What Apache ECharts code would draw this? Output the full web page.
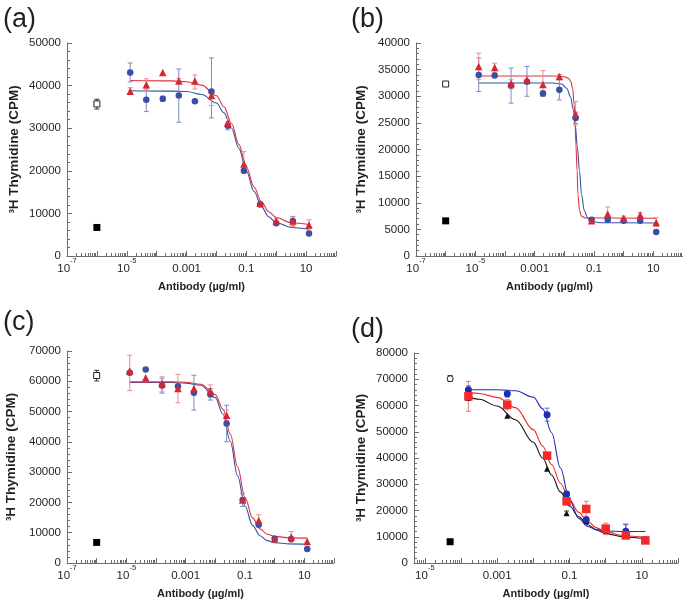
<!DOCTYPE html>
<html><head><meta charset="utf-8">
<script src="https://cdn.jsdelivr.net/npm/echarts@6/dist/echarts.min.js"></script>
<style>html,body{margin:0;padding:0;background:#fff}#c{width:683px;height:603px}</style>
</head><body><div id="c"></div>
<script>
// ---------------- DATA ----------------
// concentrations (µg/ml)
const abcConc = [1.3e-5, 4.5e-5, 1.6e-4, 5.5e-4, 1.9e-3, 6.8e-3, 0.024, 0.083, 0.29, 1.0, 3.6, 12.5];
const dConc = [1.6e-4, 1.9e-3, 0.024, 0.083, 0.29, 1.0, 3.6, 12.5];
const ctrlConcABC = 1e-6;
const ctrlConcD = 5e-5;

// panel (a)
const aBlue   = [43100, 36700, 36900, 37700, 36300, 38600, 30600, 20000, 12100, 7700, 8200, 5300];
const aBlueLo = [40900, 33900, 36300, 31400, null, 32400, 29600, null, null, null, 7200, null];
const aBlueHi = [45300, 39200, 37500, 43900, null, 46500, 31500, null, null, null, 9300, null];
const aRed    = [38700, 40200, 43100, 41100, 41100, 37700, 31200, 21600, 12400, 8300, 8200, 7300];
const aRedLo  = [38100, 38700, null, 40500, 39200, 35300, 30500, 19400, null, 8000, 6900, 6100];
const aRedHi  = [39500, 41600, null, 41700, 42500, 38900, 32300, 24500, null, 8900, 9200, 8500];
const aCtrlOpen = [35700], aCtrlOpenLo = [34500], aCtrlOpenHi = [36800];
const aCtrlFilled = [6700];
const aFitX    = [1.3e-5, 3.2e-4, 1e-3, 3.2e-3, 0.01, 0.018, 0.032, 0.056, 0.1, 0.18, 0.32, 0.56, 1.0, 3.2, 12.5];
const aFitRed  = [41200, 41100, 40900, 40100, 37600, 35000, 31100, 26200, 20900, 16200, 12700, 10400, 9000, 7800, 7400];
const aFitBlue = [38800, 38700, 38600, 37900, 35900, 33600, 30000, 25300, 20000, 15200, 11600, 9200, 7800, 6700, 6300];

// panel (b)
const bBlue   = [34000, 33900, 32000, 32700, 30500, 31200, 25900, 6800, 6800, 6600, 6600, 4500];
const bBlueLo = [30900, null, 28700, 30000, 30000, 29300, 24900, null, null, null, null, null];
const bBlueHi = [37200, null, 35300, 35600, 31000, 33100, 27000, null, null, null, null, null];
const bRed    = [35600, 35400, 32400, 33100, 32200, 33700, 26600, 6600, 7900, 7100, 7700, 6300];
const bRedLo  = [33100, 34500, 31400, 32500, 30000, 33300, 24600, null, 6600, 6600, 7200, 5500];
const bRedHi  = [38100, 36200, 33100, 33700, 34800, 34100, 29000, null, 9200, 7500, 8200, 7200];
const bCtrlOpen = [32300], bCtrlOpenLo = [31900], bCtrlOpenHi = [32700];
const bCtrlFilled = [6600];
const bFitRedX  = [1.3e-5, 4.3e-3, 9.3e-3, 0.0135, 0.0166, 0.0191, 0.0214, 0.0229, 0.0245, 0.0269, 0.0288, 0.0324, 0.0372, 0.050, 12.5];
const bFitRed   = [33800, 33800, 33700, 33400, 32800, 31500, 28500, 25500, 21000, 16000, 11500, 8600, 7500, 7150, 7100];
const bFitBlueX = [1.3e-5, 4.3e-3, 8.1e-3, 0.012, 0.0162, 0.020, 0.0234, 0.0275, 0.0324, 0.038, 0.0468, 0.0617, 0.083, 0.158, 12.5];
const bFitBlue  = [32500, 32500, 32300, 31500, 29900, 27500, 24500, 20500, 16000, 11500, 8600, 7100, 6500, 6250, 6200];

// panel (c)
const cBlue   = [62800, 63900, 58600, 58400, 56200, 55700, 46100, 20800, 12600, 8000, 7900, 4600];
const cBlueLo = [null, null, 56100, null, 50500, 53800, 40000, 18700, null, null, null, null];
const cBlueHi = [null, null, 61000, null, 62000, 57600, 52100, 23000, null, null, null, null];
const cRed    = [63400, 61200, 59300, 57600, 57600, 56800, 48800, 20800, 14000, 8000, 8600, 7100];
const cRedLo  = [56900, null, 56500, 52900, null, 54800, 47100, null, 12100, null, 6600, null];
const cRedHi  = [68600, null, 61500, 62300, null, 58800, 50500, null, 15900, null, 10400, null];
const cCtrlOpen = [61900], cCtrlOpenLo = [60100], cCtrlOpenHi = [63600];
const cCtrlFilled = [6800];
const cFitX    = [1.3e-5, 3.2e-4, 1e-3, 3.2e-3, 0.01, 0.018, 0.032, 0.056, 0.1, 0.18, 0.32, 0.56, 1.0, 3.2, 12.5];
const cFitRed  = [59800, 59800, 59700, 59000, 55600, 50800, 42600, 31800, 21700, 14900, 11300, 9500, 8800, 8300, 8200];
const cFitBlue = [59600, 59600, 59400, 58700, 54600, 49200, 40100, 28800, 18800, 12400, 9000, 7400, 6700, 6300, 6200];

// panel (d)
const dBlue    = [66000, 64500, 56500, 26300, 16500, 13000, 12100, 8900];
const dBlueLo  = [65000, 63200, 54000, 25300, null, null, 10200, null];
const dBlueHi  = [67500, 65800, 59000, 27300, null, null, 14600, null];
const dRed     = [63500, 60300, 40900, 23500, 20600, 13100, 10500, 8600];
const dRedLo   = [57800, 58400, null, 22800, 17800, 10800, 9800, 7800];
const dRedHi   = [69200, 62200, null, 24300, 23500, 15200, 11200, 9400];
const dBlack   = [62900, 56100, 35900, 19000, 16000, 13000, 12100, 9100];
const dBlackLo = [null, null, null, 18300, null, null, 9800, null];
const dBlackHi = [null, null, null, 19800, null, null, 14800, null];
const dCtrlOpen = [70200], dCtrlOpenLo = [69200], dCtrlOpenHi = [71400];
const dCtrlFilled = [8100];
const dFitX     = [1.6e-4, 3.2e-4, 1e-3, 3.2e-3, 0.01, 0.018, 0.032, 0.056, 0.1, 0.18, 0.32, 0.56, 1.0, 3.2, 12.5];
const dFitBlue  = [66000, 66000, 66000, 65600, 63200, 58800, 49600, 36200, 24100, 17000, 13900, 12700, 12200, 12000, 12000];
const dFitRed   = [65000, 64600, 63100, 59200, 50800, 44600, 37500, 30400, 24200, 19300, 15800, 13400, 11900, 10400, 9750];
const dFitBlack = [63200, 62400, 59800, 54600, 46000, 40000, 33500, 27100, 21700, 17600, 14600, 12600, 11200, 9900, 9300];

// axis tick labels
const xLabelDecadesABC = [-7, -5, -3, -1, 1];
const xLabelDecadesD = [-5, -3, -1, 1];
const panelLetters = ['(a)', '(b)', '(c)', '(d)'];
const xTitle = 'Antibody (µg/ml)';
const yTitle = '³H Thymidine (CPM)';

// ---------------- STYLE / LAYOUT ----------------
const FONT = '"Liberation Sans", Arial, Helvetica, sans-serif';
const TXT = '#231f20';
const AX = '#6d6d6d';
const BLUE = '#3b4ea3', BLUE_L = '#3352a8', BLUE_E = '#7d8cc4';
const RED = '#d8262f', RED_L = '#e0323a', RED_E = '#e88c8c';
const D_BLUE = '#1f2db5', D_RED = '#f42a2a', D_BLACK = '#111111';

const grids = [
  {left: 67, top: 43, width: 269, height: 213},
  {left: 416, top: 43, width: 267, height: 213},
  {left: 67, top: 351, width: 267, height: 212},
  {left: 414, top: 353, width: 264, height: 210}
];
const xRanges = [[-7, 2], [-7, 2], [-7, 2], [-5.3, 2]];
const yMax = [50000, 40000, 70000, 80000];
const yStep = [10000, 5000, 10000, 10000];

const lg = Math.log10;
function pts(xs, ys) { const o = []; xs.forEach((x, i) => { if (ys[i] != null) o.push([lg(x), ys[i]]); }); return o; }
function bars(xs, lo, hi) { const o = []; xs.forEach((x, i) => { if (lo[i] != null && hi[i] != null) o.push([lg(x), lo[i], hi[i]]); }); return o; }

function majors(r) { const o = []; for (let n = Math.ceil(r[0]); n <= r[1]; n++) o.push(n); return o; }
function minors(r) {
  const o = [];
  for (let n = Math.floor(r[0]); n < r[1]; n++) for (let k = 2; k <= 9; k++) {
    const v = n + lg(k); if (v >= r[0] && v <= r[1]) o.push(v);
  }
  return o;
}
function xFmt(v) {
  const r = Math.round(v);
  if (r <= -4) return '{b|10}{s|' + r + '}';
  const m = {'-3': '0.001', '-2': '0.01', '-1': '0.1', '0': '1', '1': '10'};
  return '{b|' + m[String(r)] + '}';
}

const xAxes = [], yAxes = [];
grids.forEach((g, i) => {
  const r = xRanges[i];
  xAxes.push({
    gridIndex: i, type: 'value', position: 'bottom', min: r[0], max: r[1],
    axisLine: {show: true, onZero: false, lineStyle: {color: AX, width: 1}},
    axisTick: {show: true, inside: true, length: 5, customValues: majors(r), lineStyle: {color: AX}},
    axisLabel: {
      customValues: i === 3 ? xLabelDecadesD : xLabelDecadesABC, formatter: xFmt, margin: 1,
      rich: {
        b: {fontSize: 11.5, fontFamily: FONT, color: TXT, lineHeight: 18, verticalAlign: 'bottom'},
        s: {fontSize: 7.5, fontFamily: FONT, color: TXT, lineHeight: 18, verticalAlign: 'top'}
      }
    },
    splitLine: {show: false}
  });
  xAxes.push({
    gridIndex: i, type: 'value', position: 'bottom', min: r[0], max: r[1],
    axisLine: {show: false, onZero: false}, axisLabel: {show: false}, splitLine: {show: false},
    axisTick: {show: true, inside: true, length: 3, customValues: minors(r), lineStyle: {color: AX}}
  });
  yAxes.push({
    gridIndex: i, type: 'value', position: 'left', min: 0, max: yMax[i], interval: yStep[i],
    axisLine: {show: true, onZero: false, lineStyle: {color: AX, width: 1}},
    axisTick: {show: true, inside: true, length: 5, lineStyle: {color: AX}},
    minorTick: {show: true, splitNumber: 5, length: 3, lineStyle: {color: AX}},
    axisLabel: {fontSize: 11.5, fontFamily: FONT, color: TXT, margin: 6, formatter: v => String(v)},
    splitLine: {show: false}, minorSplitLine: {show: false}
  });
});

const series = [];
function fit(gi, xs, ys, color) {
  series.push({type: 'line', xAxisIndex: gi * 2, yAxisIndex: gi, data: pts(xs, ys), showSymbol: false,
    smooth: 0.35, smoothMonotone: 'x', lineStyle: {color: color, width: 1.1}, z: 2, silent: true});
}
function err(gi, xs, lo, hi, color) {
  series.push({
    type: 'custom', xAxisIndex: gi * 2, yAxisIndex: gi, data: bars(xs, lo, hi), z: 3, silent: true,
    encode: {x: 0, y: [1, 2]},
    renderItem: (params, api) => {
      const x = api.value(0);
      const p1 = api.coord([x, api.value(1)]), p2 = api.coord([x, api.value(2)]);
      const w = 2.5, st = {stroke: color, lineWidth: 1};
      return {type: 'group', children: [
        {type: 'line', shape: {x1: p1[0], y1: p1[1], x2: p2[0], y2: p2[1]}, style: st},
        {type: 'line', shape: {x1: p1[0] - w, y1: p1[1], x2: p1[0] + w, y2: p1[1]}, style: st},
        {type: 'line', shape: {x1: p2[0] - w, y1: p2[1], x2: p2[0] + w, y2: p2[1]}, style: st}
      ]};
    }
  });
}
function dots(gi, xs, ys, symbol, size, fill, border) {
  series.push({type: 'scatter', xAxisIndex: gi * 2, yAxisIndex: gi, data: pts(xs, ys), symbol: symbol,
    symbolSize: size, z: 4, silent: true,
    itemStyle: {color: fill, borderColor: border || fill, borderWidth: border ? 1 : 0, opacity: 1}});
}

// panel (a)
fit(0, aFitX, aFitBlue, BLUE_L); fit(0, aFitX, aFitRed, RED_L);
err(0, abcConc, aBlueLo, aBlueHi, BLUE_E); err(0, abcConc, aRedLo, aRedHi, RED_E);
err(0, [ctrlConcABC], aCtrlOpenLo, aCtrlOpenHi, '#333');
dots(0, abcConc, aBlue, 'circle', 6.5, BLUE); dots(0, abcConc, aRed, 'triangle', 7.5, RED);
dots(0, [ctrlConcABC], aCtrlOpen, 'rect', 6, '#fff', '#222'); dots(0, [ctrlConcABC], aCtrlFilled, 'rect', 7, '#000');
// panel (b)
fit(1, bFitBlueX, bFitBlue, BLUE_L); fit(1, bFitRedX, bFitRed, RED_L);
err(1, abcConc, bBlueLo, bBlueHi, BLUE_E); err(1, abcConc, bRedLo, bRedHi, RED_E);
err(1, [ctrlConcABC], bCtrlOpenLo, bCtrlOpenHi, '#333');
dots(1, abcConc, bBlue, 'circle', 6.5, BLUE); dots(1, abcConc, bRed, 'triangle', 7.5, RED);
dots(1, [ctrlConcABC], bCtrlOpen, 'rect', 6, '#fff', '#222'); dots(1, [ctrlConcABC], bCtrlFilled, 'rect', 7, '#000');
// panel (c)
fit(2, cFitX, cFitBlue, BLUE_L); fit(2, cFitX, cFitRed, RED_L);
err(2, abcConc, cBlueLo, cBlueHi, BLUE_E); err(2, abcConc, cRedLo, cRedHi, RED_E);
err(2, [ctrlConcABC], cCtrlOpenLo, cCtrlOpenHi, '#333');
dots(2, abcConc, cBlue, 'circle', 6.5, BLUE); dots(2, abcConc, cRed, 'triangle', 7.5, RED);
dots(2, [ctrlConcABC], cCtrlOpen, 'rect', 6, '#fff', '#222'); dots(2, [ctrlConcABC], cCtrlFilled, 'rect', 7, '#000');
// panel (d)
fit(3, dFitX, dFitBlack, D_BLACK); fit(3, dFitX, dFitRed, D_RED); fit(3, dFitX, dFitBlue, D_BLUE);
err(3, dConc, dBlackLo, dBlackHi, '#444'); err(3, dConc, dRedLo, dRedHi, '#e07a7a'); err(3, dConc, dBlueLo, dBlueHi, '#6a74c8');
err(3, [ctrlConcD], dCtrlOpenLo, dCtrlOpenHi, '#333');
dots(3, dConc, dBlack, 'triangle', 6, D_BLACK); dots(3, dConc, dBlue, 'circle', 7, D_BLUE); dots(3, dConc, dRed, 'rect', 8.5, D_RED);
dots(3, [ctrlConcD], dCtrlOpen, 'circle', 6, '#fff', '#222'); dots(3, [ctrlConcD], dCtrlFilled, 'rect', 7, '#000');

// text graphics
const graphics = [];
const letterPos = [[3, 6], [351, 6], [3, 309], [351, 316]];
panelLetters.forEach((t, i) => graphics.push({type: 'text', x: letterPos[i][0], y: letterPos[i][1], silent: true,
  style: {text: t, fontSize: 27, fontFamily: FONT, fill: TXT, textAlign: 'left', textVerticalAlign: 'top'}}));
grids.forEach((g, i) => {
  graphics.push({type: 'text', x: g.left + g.width / 2, y: g.top + g.height + 31, silent: true,
    style: {text: xTitle, fontSize: 11, fontWeight: 'bold', fontFamily: FONT, fill: TXT, textAlign: 'center', textVerticalAlign: 'middle'}});
  const yx = [14, 361, 11, 361][i];
  graphics.push({type: 'text', x: yx, y: g.top + g.height / 2, rotation: Math.PI / 2, silent: true,
    style: {text: yTitle, fontSize: 13.5, fontWeight: 'bold', fontFamily: FONT, fill: TXT, textAlign: 'center', textVerticalAlign: 'middle'}});
});

const chart = echarts.init(document.getElementById('c'), null, {renderer: 'canvas'});
chart.setOption({
  backgroundColor: '#ffffff', animation: false,
  grid: grids, xAxis: xAxes, yAxis: yAxes, series: series, graphic: graphics
});
</script></body></html>
